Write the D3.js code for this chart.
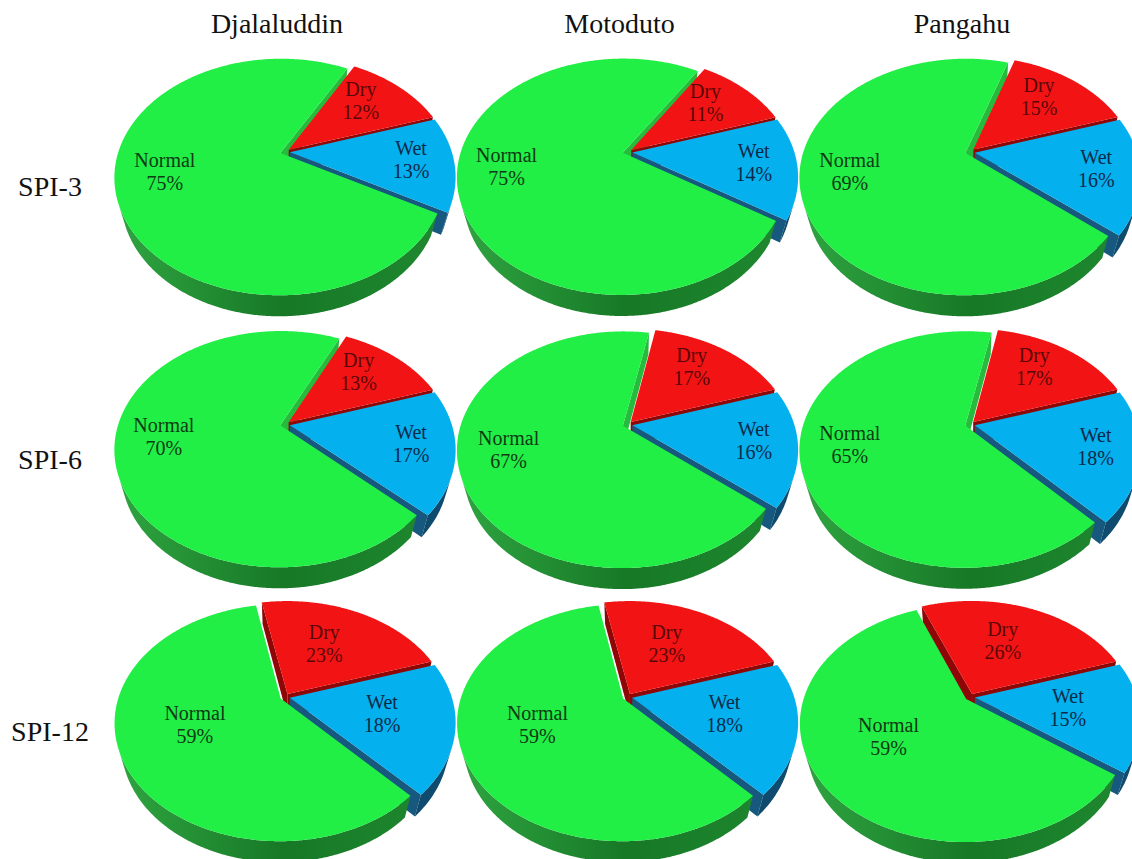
<!DOCTYPE html>
<html><head><meta charset="utf-8">
<script src="https://cdn.jsdelivr.net/npm/d3@7"></script>
<style>body{margin:0;background:#fff}</style>
</head><body>
<svg id="chart" width="1132" height="859"></svg>
<script>
// ---------- data ----------
const stations = ["Djalaluddin", "Motoduto", "Pangahu"];
const indices = ["SPI-3", "SPI-6", "SPI-12"];
const categories = ["Wet", "Normal", "Dry"]; // drawing order, clockwise
// percentages, rows = indices, columns = stations
const dryPct    = [[12, 11, 15], [13, 17, 17], [23, 23, 26]];
const wetPct    = [[13, 14, 16], [17, 16, 18], [18, 18, 15]];
const normalPct = [[75, 75, 69], [70, 67, 65], [59, 59, 59]];

// ---------- styles / layout ----------
const W = 1132, H = 859;
const svg = d3.select("#chart").attr("width", W).attr("height", H);
const defs = svg.append("defs");
const colX = d3.scalePoint().domain(stations).range([285, 970]);
const rowY = d3.scalePoint().domain(indices).range([152, 697]);

const S = 162;                       // projected radius at centre depth
const PHI = Math.asin(0.6975);
const sphi = Math.sin(PHI), cphi = Math.cos(PHI);
const D = cphi / 0.203;              // camera distance (R = 1)
const F = S * D;
const TH = 0.2;                      // pie thickness
const EXPLODE = 0.03;
const cam = [0, -D * cphi, D * sphi];

const FONT = "Liberation Serif, Times New Roman, serif";
const topColor = {Dry: "#f21414", Wet: "#05b0ee", Normal: "#22ef46"};
const radialColor = {Dry: "#8e0606", Wet: "#16587e", Normal: "#26bb3c"};
const outerColor = {Dry: "#870404", Wet: "#0f4b6e"};
const greenStops = [[0, "#2fa541"], [0.5, "#177826"], [1, "#1f8a30"]];
const textColor = {Dry: "#5a0606", Wet: "#0b2a4a", Normal: "#0e3a14"};
const labelR = {Dry: [0.66, 0.66, 0.52], Wet: [0.77, 0.77, 0.60], Normal: [0.74, 0.74, 0.59]};
const labelNudge = {Dry: -7, Wet: 0, Normal: -4};

const pie = d3.pie().sort(null).value(d => d.value)
  .startAngle(72 * Math.PI / 180).endAngle(72 * Math.PI / 180 + 2 * Math.PI);

function project(cx, cy, p) {
  const dep = D + p[1] * cphi - p[2] * sphi;
  return [cx + F * p[0] / dep, cy - F * (p[1] * sphi + p[2] * cphi) / dep];
}
const depthOf = p => D + p[1] * cphi - p[2] * sphi;
const facing = (n, p) => n[0] * (cam[0] - p[0]) + n[1] * (cam[1] - p[1]) + n[2] * (cam[2] - p[2]) > 0;
const line = d3.line();

// ---------- headers ----------
svg.selectAll("text.head").data(stations).join("text")
  .attr("class", "head")
  .attr("x", d => colX(d) - 8).attr("y", 33)
  .attr("text-anchor", "middle")
  .attr("font-family", FONT)
  .attr("font-size", 28).attr("fill", "#111")
  .text(d => d);

svg.selectAll("text.row").data(indices).join("text")
  .attr("class", "row")
  .attr("x", 50).attr("y", d => rowY(d) + 44)
  .attr("text-anchor", "middle")
  .attr("font-family", FONT)
  .attr("font-size", 28).attr("fill", "#111")
  .text(d => d);

// ---------- pies ----------
let gid = 0;
indices.forEach((idx, r) => stations.forEach((st, c) => {
  const data = categories.map(cat => ({
    cat,
    value: cat === "Dry" ? dryPct[r][c] : cat === "Wet" ? wetPct[r][c] : normalPct[r][c]
  }));
  const cx = colX(st), cy = rowY(idx);
  const P = p => project(cx, cy, p);
  const g = svg.append("g");
  const arcs = pie(data);
  const walls = [], tops = [];

  const gradId = "gw" + (gid++);
  const grad = defs.append("linearGradient").attr("id", gradId)
    .attr("gradientUnits", "userSpaceOnUse")
    .attr("x1", cx - S * 1.05).attr("x2", cx + S * 1.05).attr("y1", 0).attr("y2", 0);
  grad.selectAll("stop").data(greenStops).join("stop")
    .attr("offset", d => d[0]).attr("stop-color", d => d[1]);

  arcs.forEach(a => {
    const cat = a.data.cat;
    const a0 = a.startAngle, a1 = a.endAngle, am = (a0 + a1) / 2;
    const ox = EXPLODE * Math.sin(am), oy = EXPLODE * Math.cos(am);
    const rim = (t, z) => [ox + Math.sin(t), oy + Math.cos(t), z];
    const ctr = z => [ox, oy, z];
    const n = Math.max(2, Math.ceil((a1 - a0) / (Math.PI / 360)));

    const topPts = [ctr(0)];
    for (let i = 0; i <= n; i++) topPts.push(rim(a0 + (a1 - a0) * i / n, 0));
    tops.push({pts: topPts, cat});

    // outer curved wall: one contiguous visible run
    const vis = [];
    for (let i = 0; i <= n; i++) {
      const t = a0 + (a1 - a0) * i / n;
      const pm = rim(t, -TH / 2);
      if (facing([Math.sin(t), Math.cos(t), 0], pm)) vis.push(t);
    }
    if (vis.length > 1) {
      const pts = vis.map(t => rim(t, 0)).concat(vis.slice().reverse().map(t => rim(t, -TH)));
      const mid = vis[Math.floor(vis.length / 2)];
      walls.push({pts, fill: cat === "Normal" ? `url(#${gradId})` : outerColor[cat],
                  dep: depthOf(rim(mid, -TH / 2))});
    }
    // radial faces
    [[a0, [-Math.cos(a0), Math.sin(a0), 0]], [a1, [Math.cos(a1), -Math.sin(a1), 0]]].forEach(([t, nrm]) => {
      const pm = [ox + 0.5 * Math.sin(t), oy + 0.5 * Math.cos(t), -TH / 2];
      if (!facing(nrm, pm)) return;
      walls.push({pts: [ctr(0), rim(t, 0), rim(t, -TH), ctr(-TH)], fill: radialColor[cat], dep: depthOf(pm)});
    });
  });

  walls.sort((A, B) => B.dep - A.dep);
  g.selectAll("path.wall").data(walls).join("path")
    .attr("class", "wall")
    .attr("d", d => line(d.pts.map(P)) + "Z")
    .attr("fill", d => d.fill).attr("stroke", "none");

  g.selectAll("path.top").data(tops).join("path")
    .attr("class", "top")
    .attr("d", d => line(d.pts.map(P)) + "Z")
    .attr("fill", d => topColor[d.cat]);

  // labels
  arcs.forEach(a => {
    const cat = a.data.cat;
    const am = (a.startAngle + a.endAngle) / 2;
    const rr = labelR[cat][r];
    const [lx, ly0] = P([rr * Math.sin(am), rr * Math.cos(am), 0]);
    const ly = ly0 + labelNudge[cat];
    const t = g.append("text")
      .attr("text-anchor", "middle")
      .attr("font-family", FONT)
      .attr("font-size", 20).attr("fill", textColor[cat]);
    t.append("tspan").attr("x", lx).attr("y", ly - 5).text(cat);
    t.append("tspan").attr("x", lx).attr("y", ly + 18).text(a.data.value + "%");
  });
}));
</script>
</body></html>
